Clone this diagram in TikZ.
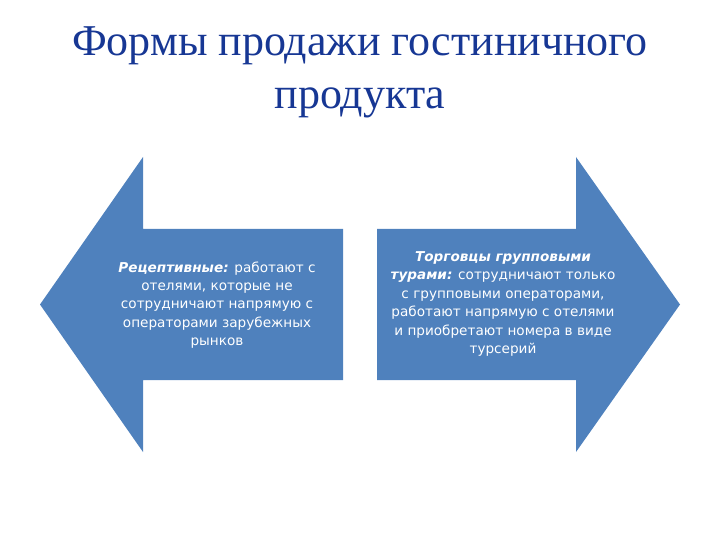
\documentclass[tikz,border=0pt]{standalone}
\usepackage{fontspec}
\setmainfont{Liberation Serif}
\newfontfamily\bodyfont{DejaVu Sans}
\usetikzlibrary{positioning}
\definecolor{arrowblue}{RGB}{79,129,189}
\definecolor{titleblue}{RGB}{23,55,148}
\tikzset{
  bigarrow/.style={fill=arrowblue},
  arrowtext/.style={text=white, align=center, inner sep=0pt,
    font=\bodyfont\fontsize{13.6}{18.4}\selectfont},
  titletext/.style={text=titleblue, align=center, inner sep=0pt,
    font=\fontsize{44}{53}\selectfont}
}
\begin{document}
\begin{tikzpicture}[x=1pt,y=-1pt]
    \useasboundingbox (0,0) rectangle (720,540);
    \node[titletext] (title) at (360,72) {Формы продажи гостиничного\\продукта};

    \fill[bigarrow] (343,229) -- (143,229) -- (143,157) -- (40,304.5)
        -- (143,452) -- (143,380) -- (343,380) -- cycle;
    \fill[bigarrow] (377,229) -- (576,229) -- (576,157) -- (680,304.5)
        -- (576,452) -- (576,380) -- (377,380) -- cycle;

    \node[arrowtext] (recept) at (217,305) {\textbf{\textit{Рецептивные:}} работают с\\
        отелями, которые не\\сотрудничают напрямую с\\операторами зарубежных\\рынков};
    \node[arrowtext] (group) at (503,304) {\textbf{\textit{Торговцы групповыми}}\\
        \textbf{\textit{турами:}} сотрудничают только\\с групповыми операторами,\\
        работают напрямую с отелями\\и приобретают номера в виде\\турсерий};
\end{tikzpicture}
\end{document}
